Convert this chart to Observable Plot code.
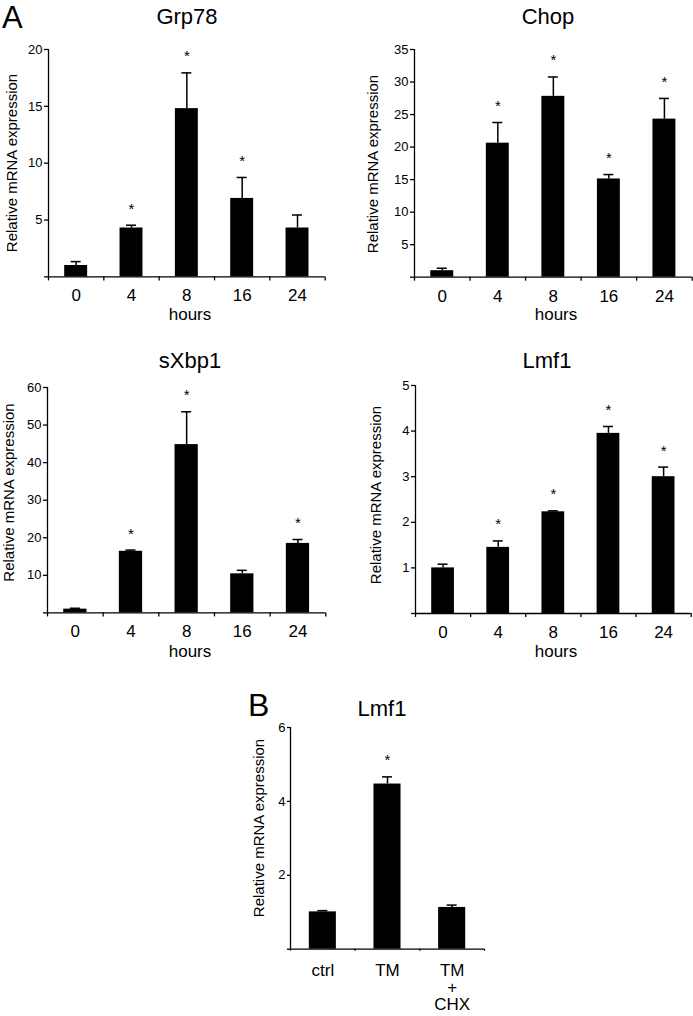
<!DOCTYPE html>
<html><head><meta charset="utf-8">
<script src="https://cdn.jsdelivr.net/npm/d3@7"></script>
<script src="https://cdn.jsdelivr.net/npm/@observablehq/plot@0.6"></script>
<style>
html,body{margin:0;padding:0;background:#fff;}
#page{position:relative;width:693px;height:1016px;overflow:hidden;font-family:"Liberation Sans",Arial,Helvetica,sans-serif;}
#page svg{position:absolute;overflow:visible;}
</style></head><body><div id="page"></div>
<script>
// ---- data ----
const hours = ["0", "4", "8", "16", "24"];
const treatments = ["ctrl", "TM", "TM\n+\nCHX"];

const grp78 = [1.0, 4.3, 14.8, 6.9, 4.3];
const grp78Err = [0.3, 0.2, 3.1, 1.8, 1.1];
const grp78Sig = [false, true, true, true, false];
const grp78Ticks = [5, 10, 15, 20];

const chop = [1.0, 20.6, 27.8, 15.1, 24.3];
const chopErr = [0.3, 3.1, 2.9, 0.6, 3.1];
const chopSig = [false, true, true, true, true];
const chopTicks = [5, 10, 15, 20, 25, 30, 35];

const sxbp1 = [1.0, 16.4, 44.8, 10.4, 18.5];
const sxbp1Err = [0.1, 0.2, 8.6, 0.8, 0.9];
const sxbp1Sig = [false, true, true, false, true];
const sxbp1Ticks = [10, 20, 30, 40, 50, 60];

const lmf1 = [1.0, 1.45, 2.23, 3.95, 3.0];
const lmf1Err = [0.07, 0.13, 0.01, 0.14, 0.2];
const lmf1Sig = [false, true, true, true, true];
const lmf1Ticks = [1, 2, 3, 4, 5];

const lmf1B = [1.01, 4.47, 1.13];
const lmf1BErr = [0.02, 0.18, 0.05];
const lmf1BSig = [false, true, false];
const lmf1BTicks = [2, 4, 6];

// ---- drawing ----
const FONT = '"Liberation Sans", Arial, Helvetica, sans-serif';
const PAD = {l: 50, r: 10, t: 30, b: 45};
const page = document.getElementById("page");

function panel(cfg) {
  const {cats, vals, errs, sig, yTicks, frame, inset, tickSize = 4, xTickSize = 4, labelDy, lineHeight = 1.18} = cfg;
  const data = cats.map((c, i) => ({i, c, v: vals[i], e: errs[i], s: sig[i]}));
  const n = cats.length;
  const mid = d => d.i + 0.5;
  const top = d => d.v + d.e;
  const yMax = d3.max(yTicks);
  const [x0, x1, y0, y1] = frame;
  const W = x1 - x0 + PAD.l + PAD.r, H = y1 - y0 + PAD.t + PAD.b;
  const svg = Plot.plot({
    width: W, height: H,
    marginLeft: PAD.l, marginRight: PAD.r, marginTop: PAD.t, marginBottom: PAD.b,
    x: {domain: [0, n]},
    y: {domain: [0, yMax]},
    style: {fontFamily: FONT, fontSize: "13px", color: "black", background: "none", overflow: "visible"},
    marks: [
      Plot.rect(data, {x1: "i", x2: d => d.i + 1, y1: 0, y2: "v", fill: "black", insetLeft: inset, insetRight: inset}),
      Plot.ruleX(data, {x: mid, y1: "v", y2: top, stroke: "black", strokeWidth: 1.5}),
      Plot.rect(data, {x1: mid, x2: mid, y1: top, y2: top, fill: "black", insetLeft: -5, insetRight: -5, insetTop: -0.75, insetBottom: -0.75}),
      Plot.text(data.filter(d => d.s), {x: mid, y: top, text: () => "*", fontSize: 15, lineAnchor: "bottom", dy: -12}),
      Plot.ruleX([0], {strokeWidth: 1.3}),
      Plot.ruleY([0], {strokeWidth: 1.3}),
      Plot.axisY({ticks: [0, ...yTicks], tickSize, tickPadding: 2, tickFormat: d => d === 0 ? "" : String(d), strokeWidth: 1.3, label: null, fontSize: 13}),
      Plot.axisX({ticks: d3.range(n + 1), tickSize: xTickSize, tickFormat: () => "", strokeWidth: 1.3, label: null}),
      Plot.text(data, {x: mid, text: "c", frameAnchor: "bottom", lineAnchor: "top", dy: labelDy, fontSize: 17, lineHeight})
    ]
  });
  svg.style.left = (x0 - PAD.l) + "px";
  svg.style.top = (y0 - PAD.t) + "px";
  page.appendChild(svg);
}

panel({cats: hours, vals: grp78, errs: grp78Err, sig: grp78Sig, yTicks: grp78Ticks, frame: [48.3, 325, 49.3, 276.7], inset: 16.2, labelDy: 10.2});
panel({cats: hours, vals: chop, errs: chopErr, sig: chopSig, yTicks: chopTicks, frame: [414, 691.7, 49, 276.7], inset: 16.3, labelDy: 10.2});
panel({cats: hours, vals: sxbp1, errs: sxbp1Err, sig: sxbp1Sig, yTicks: sxbp1Ticks, frame: [46.7, 325, 387.3, 612.7], inset: 16.2, labelDy: 10.2});
panel({cats: hours, vals: lmf1, errs: lmf1Err, sig: lmf1Sig, yTicks: lmf1Ticks, frame: [415, 690.7, 384.7, 612.7], inset: 16.2, labelDy: 10.2});
panel({cats: treatments, vals: lmf1B, errs: lmf1BErr, sig: lmf1BSig, yTicks: lmf1BTicks, frame: [290, 484, 727.3, 949], inset: 18.8, tickSize: 3, xTickSize: 2, labelDy: 14, lineHeight: 1.02});

// ---- annotations ----
const ann = d3.select(page).append("svg")
  .attr("width", 693).attr("height", 1016)
  .style("left", "0px").style("top", "0px")
  .style("font-family", FONT);

const labels = [
  {t: "A", x: 2, y: 28, s: 31, a: "start"},
  {t: "B", x: 248, y: 716, s: 32, a: "start"},
  {t: "Grp78", x: 187, y: 24, s: 22, a: "middle"},
  {t: "Chop", x: 548, y: 24, s: 22, a: "middle"},
  {t: "sXbp1", x: 190, y: 368, s: 22, a: "middle"},
  {t: "Lmf1", x: 547, y: 368, s: 22, a: "middle"},
  {t: "Lmf1", x: 382, y: 716, s: 22, a: "middle"},
  {t: "hours", x: 190, y: 320, s: 17, a: "middle"},
  {t: "hours", x: 556, y: 320, s: 17, a: "middle"},
  {t: "hours", x: 190, y: 657, s: 17, a: "middle"},
  {t: "hours", x: 556, y: 657, s: 17, a: "middle"}
];
ann.selectAll("text.l").data(labels).join("text").attr("class", "l")
  .attr("x", d => d.x).attr("y", d => d.y)
  .attr("font-size", d => d.s).attr("text-anchor", d => d.a)
  .text(d => d.t);

const ylab = [[12, 163], [372.5, 164], [9, 492.5], [376, 495], [259, 828]];
ann.selectAll("text.y").data(ylab).join("text").attr("class", "y")
  .attr("transform", d => `translate(${d[0]},${d[1]}) rotate(-90)`)
  .attr("dy", "0.35em").attr("font-size", 15).attr("text-anchor", "middle")
  .text("Relative mRNA expression");
</script>
</body></html>
